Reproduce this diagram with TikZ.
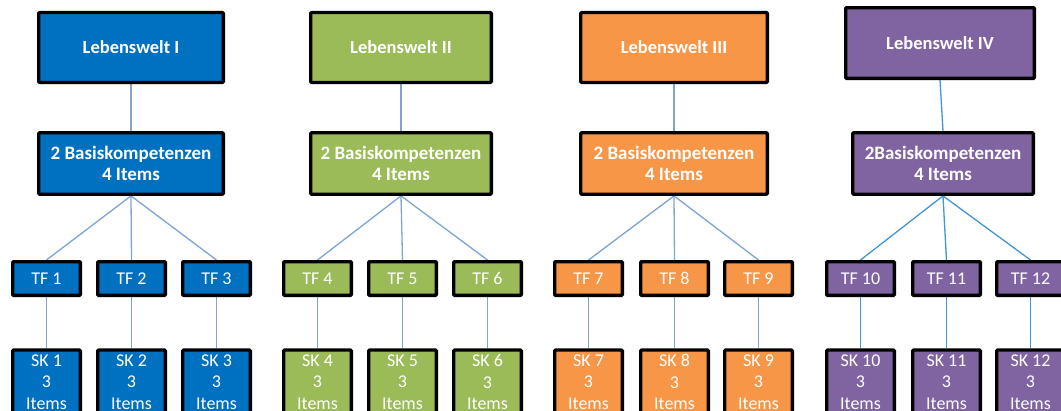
\documentclass[tikz,border=0pt]{standalone}
\usepackage{fontspec}
\setmainfont{Carlito}
\usetikzlibrary{backgrounds}
\definecolor{cblue}{HTML}{0070C0}
\definecolor{cgreen}{HTML}{9BBB59}
\definecolor{corange}{HTML}{F79646}
\definecolor{cpurple}{HTML}{8064A2}
\definecolor{lnA}{HTML}{7FA3D6}
\definecolor{lnB}{HTML}{3F95D6}
\tikzset{
  box/.style={draw=black, line width=3.3pt, rounded corners=1pt, text=white, align=center, inner sep=0pt},
  lw/.style={box, minimum height=70pt, font=\fontsize{18.5}{20.5}\selectfont\bfseries},
  basis/.style={box, minimum height=61.5pt, font=\fontsize{19}{20.5}\selectfont\bfseries},
  tf/.style={box, minimum width=67.7pt, minimum height=33.7pt, font=\fontsize{18}{21.7}\selectfont},
  sk/.style={box, minimum width=67.7pt, minimum height=64pt, font=\fontsize{18}{21.7}\selectfont},
  conA/.style={draw=lnA, line width=1.3pt},
  conB/.style={draw=lnB, line width=1.3pt},
}
\begin{document}
\begin{tikzpicture}[x=1pt,y=-1pt]
\useasboundingbox (0,0) rectangle (1061,410);
\clip (0,0) rectangle (1061,410);
% Group 1
\node[lw, fill=cblue, minimum width=184.7pt] (lw1) at (131,47.5) {Lebenswelt I};
\node[basis, fill=cblue, minimum width=184.7pt] (b1) at (131,163.5) {2 Basiskompetenzen\\4 Items};
\node[tf, fill=cblue] (tf1) at (46.5,278.5) {TF 1};
\node[tf, fill=cblue] (tf2) at (131.5,278.5) {TF 2};
\node[tf, fill=cblue] (tf3) at (216.5,278.5) {TF 3};
\node[sk, fill=cblue] (sk1) at (46.5,382) {SK 1\\3\\Items};
\node[sk, fill=cblue] (sk2) at (131.5,382) {SK 2\\3\\Items};
\node[sk, fill=cblue] (sk3) at (216.5,382) {SK 3\\3\\Items};
% Group 2
\node[lw, fill=cgreen, minimum width=180.7pt] (lw2) at (401,47.5) {Lebenswelt II};
\node[basis, fill=cgreen, minimum width=180.7pt] (b2) at (401,163.5) {2 Basiskompetenzen\\4 Items};
\node[tf, fill=cgreen] (tf4) at (317.5,278.5) {TF 4};
\node[tf, fill=cgreen] (tf5) at (402.5,278.5) {TF 5};
\node[tf, fill=cgreen] (tf6) at (487.5,278.5) {TF 6};
\node[sk, fill=cgreen] (sk4) at (317.5,382) {SK 4\\3\\Items};
\node[sk, fill=cgreen] (sk5) at (402.5,382) {SK 5\\3\\Items};
\node[sk, fill=cgreen] (sk6) at (487.5,382) {SK 6\\3\\Items};
% Group 3
\node[lw, fill=corange, minimum width=186.7pt] (lw3) at (674,47.5) {Lebenswelt III};
\node[basis, fill=corange, minimum width=186.7pt] (b3) at (674,163.5) {2 Basiskompetenzen\\4 Items};
\node[tf, fill=corange] (tf7) at (588.5,278.5) {TF 7};
\node[tf, fill=corange] (tf8) at (674.5,278.5) {TF 8};
\node[tf, fill=corange] (tf9) at (758.5,278.5) {TF 9};
\node[sk, fill=corange] (sk7) at (588.5,382) {SK 7\\3\\Items};
\node[sk, fill=corange] (sk8) at (674.5,382) {SK 8\\3\\Items};
\node[sk, fill=corange] (sk9) at (758.5,382) {SK 9\\3\\Items};
% Group 4
\node[lw, fill=cpurple, minimum width=188.7pt, minimum height=70.7pt] (lw4) at (940,43) {Lebenswelt IV};
\node[basis, fill=cpurple, minimum width=180.7pt] (b4) at (943,163.5) {2Basiskompetenzen\\4 Items};
\node[tf, fill=cpurple] (tf10) at (860.5,278.5) {TF 10};
\node[tf, fill=cpurple] (tf11) at (946.5,278.5) {TF 11};
\node[tf, fill=cpurple] (tf12) at (1030.5,278.5) {TF 12};
\node[sk, fill=cpurple] (sk10) at (860.5,382) {SK 10\\3\\Items};
\node[sk, fill=cpurple] (sk11) at (946.5,382) {SK 11\\3\\Items};
\node[sk, fill=cpurple] (sk12) at (1030.5,382) {SK 12\\3\\Items};
\begin{scope}[on background layer]
\draw[conA] (lw1.south) -- (b1.north);
\foreach \t in {1,2,3} {\draw[conA] (b1.south) -- (tf\t.north); \draw[conA] (tf\t.south) -- (sk\t.north);}
\draw[conA] (lw2.south) -- (b2.north);
\foreach \t in {4,5,6} {\draw[conA] (b2.south) -- (tf\t.north); \draw[conA] (tf\t.south) -- (sk\t.north);}
\draw[conA] (lw3.south) -- (b3.north);
\foreach \t in {7,8,9} {\draw[conA] (b3.south) -- (tf\t.north); \draw[conA] (tf\t.south) -- (sk\t.north);}
\draw[conB] (lw4.south) -- (b4.north);
\foreach \t in {10,11,12} {\draw[conB] (b4.south) -- (tf\t.north); \draw[conB] (tf\t.south) -- (sk\t.north);}
\end{scope}
\end{tikzpicture}
\end{document}
